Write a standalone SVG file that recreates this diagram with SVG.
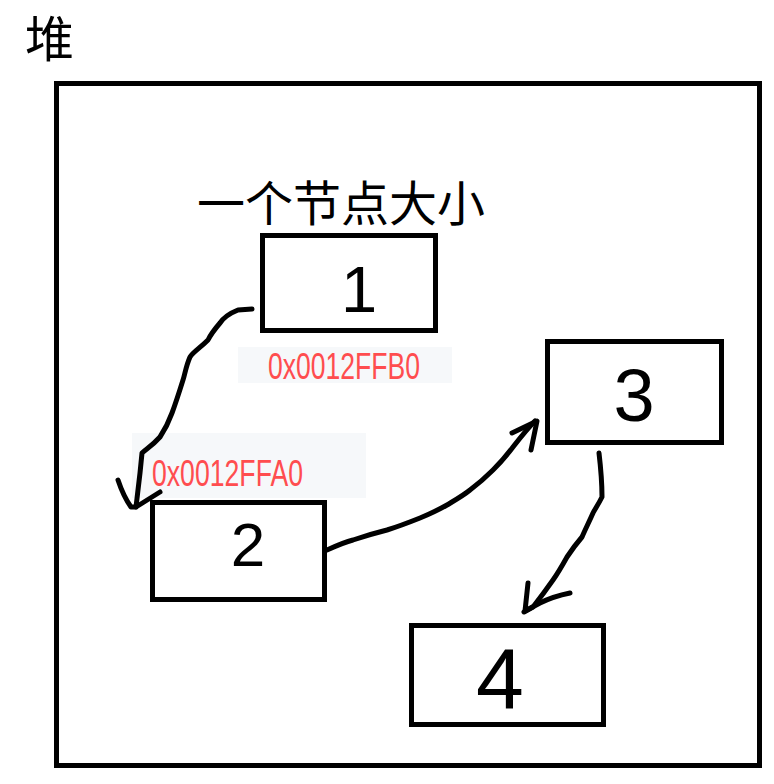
<svg xmlns="http://www.w3.org/2000/svg" width="774" height="784" viewBox="0 0 774 784">
<style>
.box{fill:none;stroke:#000;stroke-width:5}
.num{font-family:"Liberation Sans",Arial,sans-serif;fill:#000;text-anchor:middle}
.cjk{font-family:"Noto Sans CJK SC","Noto Sans CJK JP",sans-serif;fill:#000}
.addr{font-family:"Liberation Sans",Arial,sans-serif;font-size:36px;fill:#ff4d4f}
.addrbg{fill:#f6f8fa}
.con{fill:none;stroke:#000;stroke-width:5;stroke-linecap:round;stroke-linejoin:round}
</style>
<rect x="0" y="0" width="774" height="784" fill="#fff"/>
<text class="cjk" x="25" y="57" font-size="49">堆</text>
<rect id="heap" class="box" x="56.5" y="83.5" width="703" height="682"/>
<text class="cjk" x="197" y="221" font-size="48">一个节点大小</text>
<g id="addr1">
<rect class="addrbg" x="238" y="347" width="214" height="36"/>
<text class="addr" x="268" y="379" textLength="152" lengthAdjust="spacingAndGlyphs">0x0012FFB0</text>
</g>
<g id="addr2">
<rect class="addrbg" x="132" y="433" width="234" height="65"/>
<text class="addr" x="152" y="486" textLength="151" lengthAdjust="spacingAndGlyphs">0x0012FFA0</text>
</g>
<g id="node1">
<rect class="box" x="262.5" y="235.5" width="173" height="95"/>
<text class="num" x="359" y="312" font-size="65">1</text>
</g>
<g id="node2">
<rect class="box" x="152.5" y="502.5" width="172" height="97"/>
<text class="num" x="248" y="566" font-size="62">2</text>
</g>
<g id="node3">
<rect class="box" x="547.5" y="341.5" width="174" height="101"/>
<text class="num" x="634" y="421" font-size="74">3</text>
</g>
<g id="node4">
<rect class="box" x="411.5" y="625.5" width="192" height="99"/>
<text class="num" x="500" y="708" font-size="86">4</text>
</g>
<g id="connectors">
<path class="con" d="M252,309 L238,310 C228,314 222,320 220,323 C214,330 210,336 208,340 C200,348 193,352 190,357 C186,366 185,374 183,380 C178,396 175,405 172,413 C168,424 164,431 160,437 C152,446 146,449 142,453 L140,473 L136,507"/>
<path class="con" d="M118,480 C122,492 126,500 131,507 L136,507 L160,492"/>
<path class="con" d="M327,550 C338,545 345,542 353,540 C365,536 375,533 387,530 C400,526 410,522 420,518 C432,513 440,509 447,505 C457,499 464,495 470,490 C478,484 486,477 493,470 C501,462 507,455 513,447 C520,438 527,429 535,421"/>
<path class="con" d="M512,433 L537,421 L531,450"/>
<path class="con" d="M599,453 C601,470 602,485 602,497 C598,505 595,509 593,513 C589,522 585,530 582,537 C576,544 571,551 567,557 C562,566 558,573 553,580 C546,590 540,598 533,607 L524,612"/>
<path class="con" d="M528,583 L525,611 L540,603 C552,597 560,595 570,593"/>
</g>
</svg>
